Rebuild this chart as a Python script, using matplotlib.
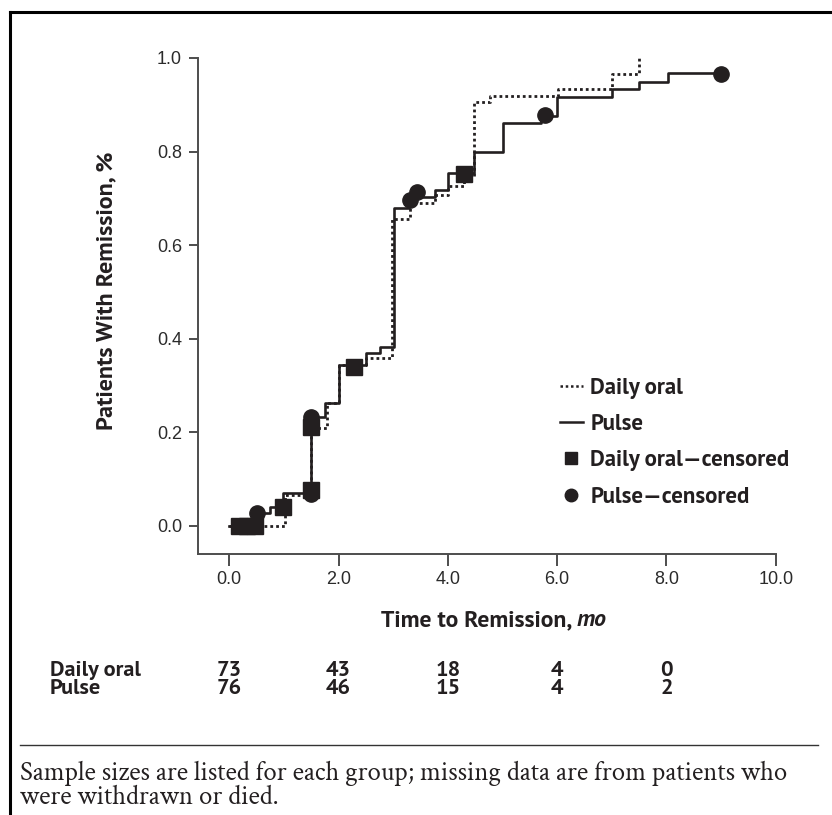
import matplotlib
matplotlib.use("Agg")
import matplotlib.pyplot as plt
from matplotlib import transforms
from matplotlib.lines import Line2D

# ---------------- data ----------------
pulse_t = [0.0, 0.50, 0.75, 0.98, 1.50, 1.75, 2.01, 2.51, 2.76, 3.01, 3.28, 3.76, 4.01, 4.47, 5.01, 5.70, 6.00, 7.00, 7.50, 8.03, 9.00]
pulse_v = [0.0, 0.027, 0.040, 0.069, 0.232, 0.263, 0.343, 0.369, 0.383, 0.679, 0.703, 0.718, 0.754, 0.800, 0.860, 0.877, 0.916, 0.934, 0.949, 0.968, 0.968]

oral_t = [0.0, 1.02, 1.50, 1.78, 2.00, 2.50, 2.98, 3.30, 3.76, 4.00, 4.30, 4.48, 4.77, 6.02, 7.00, 7.50]
oral_v = [0.0, 0.066, 0.209, 0.263, 0.343, 0.358, 0.656, 0.689, 0.707, 0.727, 0.745, 0.905, 0.919, 0.934, 0.965, 1.0]

oral_cens_t = [0.18, 0.33, 0.47, 0.98, 1.49, 1.49, 2.28, 4.30]
oral_cens_v = [0.0, 0.0, 0.0, 0.040, 0.077, 0.212, 0.339, 0.753]

pulse_cens_t = [0.50, 1.49, 1.49, 3.30, 3.44, 5.78, 8.99]
pulse_cens_v = [0.027, 0.067, 0.232, 0.696, 0.714, 0.879, 0.966]

x_ticks = [0.0, 2.0, 4.0, 6.0, 8.0, 10.0]
x_tick_labels = ["0.0", "2.0", "4.0", "6.0", "8.0", "10.0"]
y_ticks = [0.0, 0.2, 0.4, 0.6, 0.8, 1.0]
y_tick_labels = ["0.0", "0.2", "0.4", "0.6", "0.8", "1.0"]

risk_times = [0, 2, 4, 6, 8]
risk_groups = ["Daily oral", "Pulse"]
risk_oral = [73, 43, 18, 4, 0]
risk_pulse = [76, 46, 15, 4, 2]

legend_labels = ["Daily oral", "Pulse", "Daily oral\u2014censored", "Pulse\u2014censored"]
footnote_lines = ["Sample sizes are listed for each group; missing data are from patients who",
                  "were withdrawn or died."]

# ---------------- style ----------------
INK = "#231f20"
COND = ["PT Sans", "DejaVu Sans"]
ITAL = ["PT Sans", "DejaVu Sans"]
SANS = ["Liberation Sans", "DejaVu Sans"]
SERIF = ["Crimson Text", "Liberation Serif", "DejaVu Serif"]

W, H = 832, 815
fig = plt.figure(figsize=(W / 100, H / 100), dpi=100)

# outer frame (top and left rules)
fig.add_artist(Line2D([10 / W, 1.0], [1 - 12 / H, 1 - 12 / H], transform=fig.transFigure, color="black", lw=2.2))
fig.add_artist(Line2D([10 / W, 10 / W], [0.0, 1 - 12 / H], transform=fig.transFigure, color="black", lw=2.2))

ax_l, ax_r, ax_t, ax_b = 198, 775.7, 58, 554
ax = fig.add_axes([ax_l / W, 1 - ax_b / H, (ax_r - ax_l) / W, (ax_b - ax_t) / H])
ax.set_xlim(-0.573, 10.0)
ax.set_ylim(-0.0605, 1.0)

ax.step(oral_t, oral_v, where="post", color=INK, lw=2.0, ls=(0, (1, 1.1)), clip_on=False, zorder=3)
ax.step(pulse_t, pulse_v, where="post", color=INK, lw=1.9, ls="-", clip_on=False, zorder=3)
ax.plot(oral_cens_t, oral_cens_v, ls="none", marker="s", ms=11.5, color=INK, mec=INK, clip_on=False, zorder=4)
ax.plot(pulse_cens_t, pulse_cens_v, ls="none", marker="o", ms=11, color=INK, mec=INK, clip_on=False, zorder=4)

for s in ["top", "right"]:
    ax.spines[s].set_visible(False)
for s in ["left", "bottom"]:
    ax.spines[s].set_color("#4d4d4d")
    ax.spines[s].set_linewidth(1.4)

ax.set_xticks(x_ticks)
ax.set_xticklabels(x_tick_labels, family=SANS, fontsize=13, color="#2b2b2b")
ax.set_yticks(y_ticks)
ax.set_yticklabels(y_tick_labels, family=SANS, fontsize=13, color="#2b2b2b")
ax.tick_params(axis="x", length=8.5, width=1.4, color="#4d4d4d", pad=4, direction="out")
ax.tick_params(axis="y", length=6.5, width=1.4, color="#4d4d4d", pad=5, direction="out")

LBL = 17
fig.text(107 / W, 1 - 291 / H, "Patients With Remission, %", rotation=90, ha="center", va="center",
         family=COND, fontsize=17.3, fontweight="bold", color=INK)

# x label with italic unit
renderer = fig.canvas.get_renderer()
t1 = fig.text(0, 1 - 626 / H, "Time to Remission, ", ha="left", va="baseline",
              family=COND, fontsize=LBL, fontweight="bold", color=INK)
t2 = fig.text(0, 1 - 626 / H, "mo", ha="left", va="baseline", family=ITAL, style="italic",
              fontsize=LBL, fontweight="bold", color=INK)
w1 = t1.get_window_extent(renderer).width
w2 = t2.get_window_extent(renderer).width
x0 = 494 - (w1 + w2) / 2
t1.set_x(x0 / W)
t2.set_x((x0 + w1) / W)

# legend
handles = [
    Line2D([], [], color=INK, lw=1.8, ls=(0, (1, 1.1))),
    Line2D([], [], color=INK, lw=1.8, ls="-"),
    Line2D([], [], color=INK, ls="none", marker="s", ms=9),
    Line2D([], [], color=INK, ls="none", marker="o", ms=9),
]
leg = ax.legend(handles, legend_labels, loc="upper left",
                bbox_to_anchor=((560 - ax_l) / (ax_r - ax_l), 1 - (378 - ax_t) / (ax_b - ax_t)),
                frameon=False, handlelength=1.0, handletextpad=0.32, labelspacing=0.66, borderpad=0, borderaxespad=0,
                prop={"family": COND, "size": 16.5, "weight": "bold"})
for t in leg.get_texts():
    t.set_color(INK)

# risk table
tr = transforms.blended_transform_factory(ax.transData, fig.transFigure)
rows = [risk_oral, risk_pulse]
row_y = [670, 689]
for name, vals, py in zip(risk_groups, rows, row_y):
    fig.text(50 / W, 1 - py / H, name, ha="left", va="center", family=COND, fontsize=16,
             fontweight="bold", color=INK)
    for t, v in zip(risk_times, vals):
        ax.text(t, 1 - py / H, str(v), transform=tr, ha="center", va="center", family=COND,
                fontsize=16, fontweight="bold", color=INK)

# footnote
fig.add_artist(Line2D([20 / W, 818 / W], [1 - 745 / H, 1 - 745 / H], transform=fig.transFigure, color="#333333", lw=1.0))
for i, line in enumerate(footnote_lines):
    fig.text(20 / W, 1 - (773 + 24 * i) / H, line, ha="left", va="center", family=SERIF, fontsize=19.2, color=INK)

fig.savefig("out.png", dpi=100)
